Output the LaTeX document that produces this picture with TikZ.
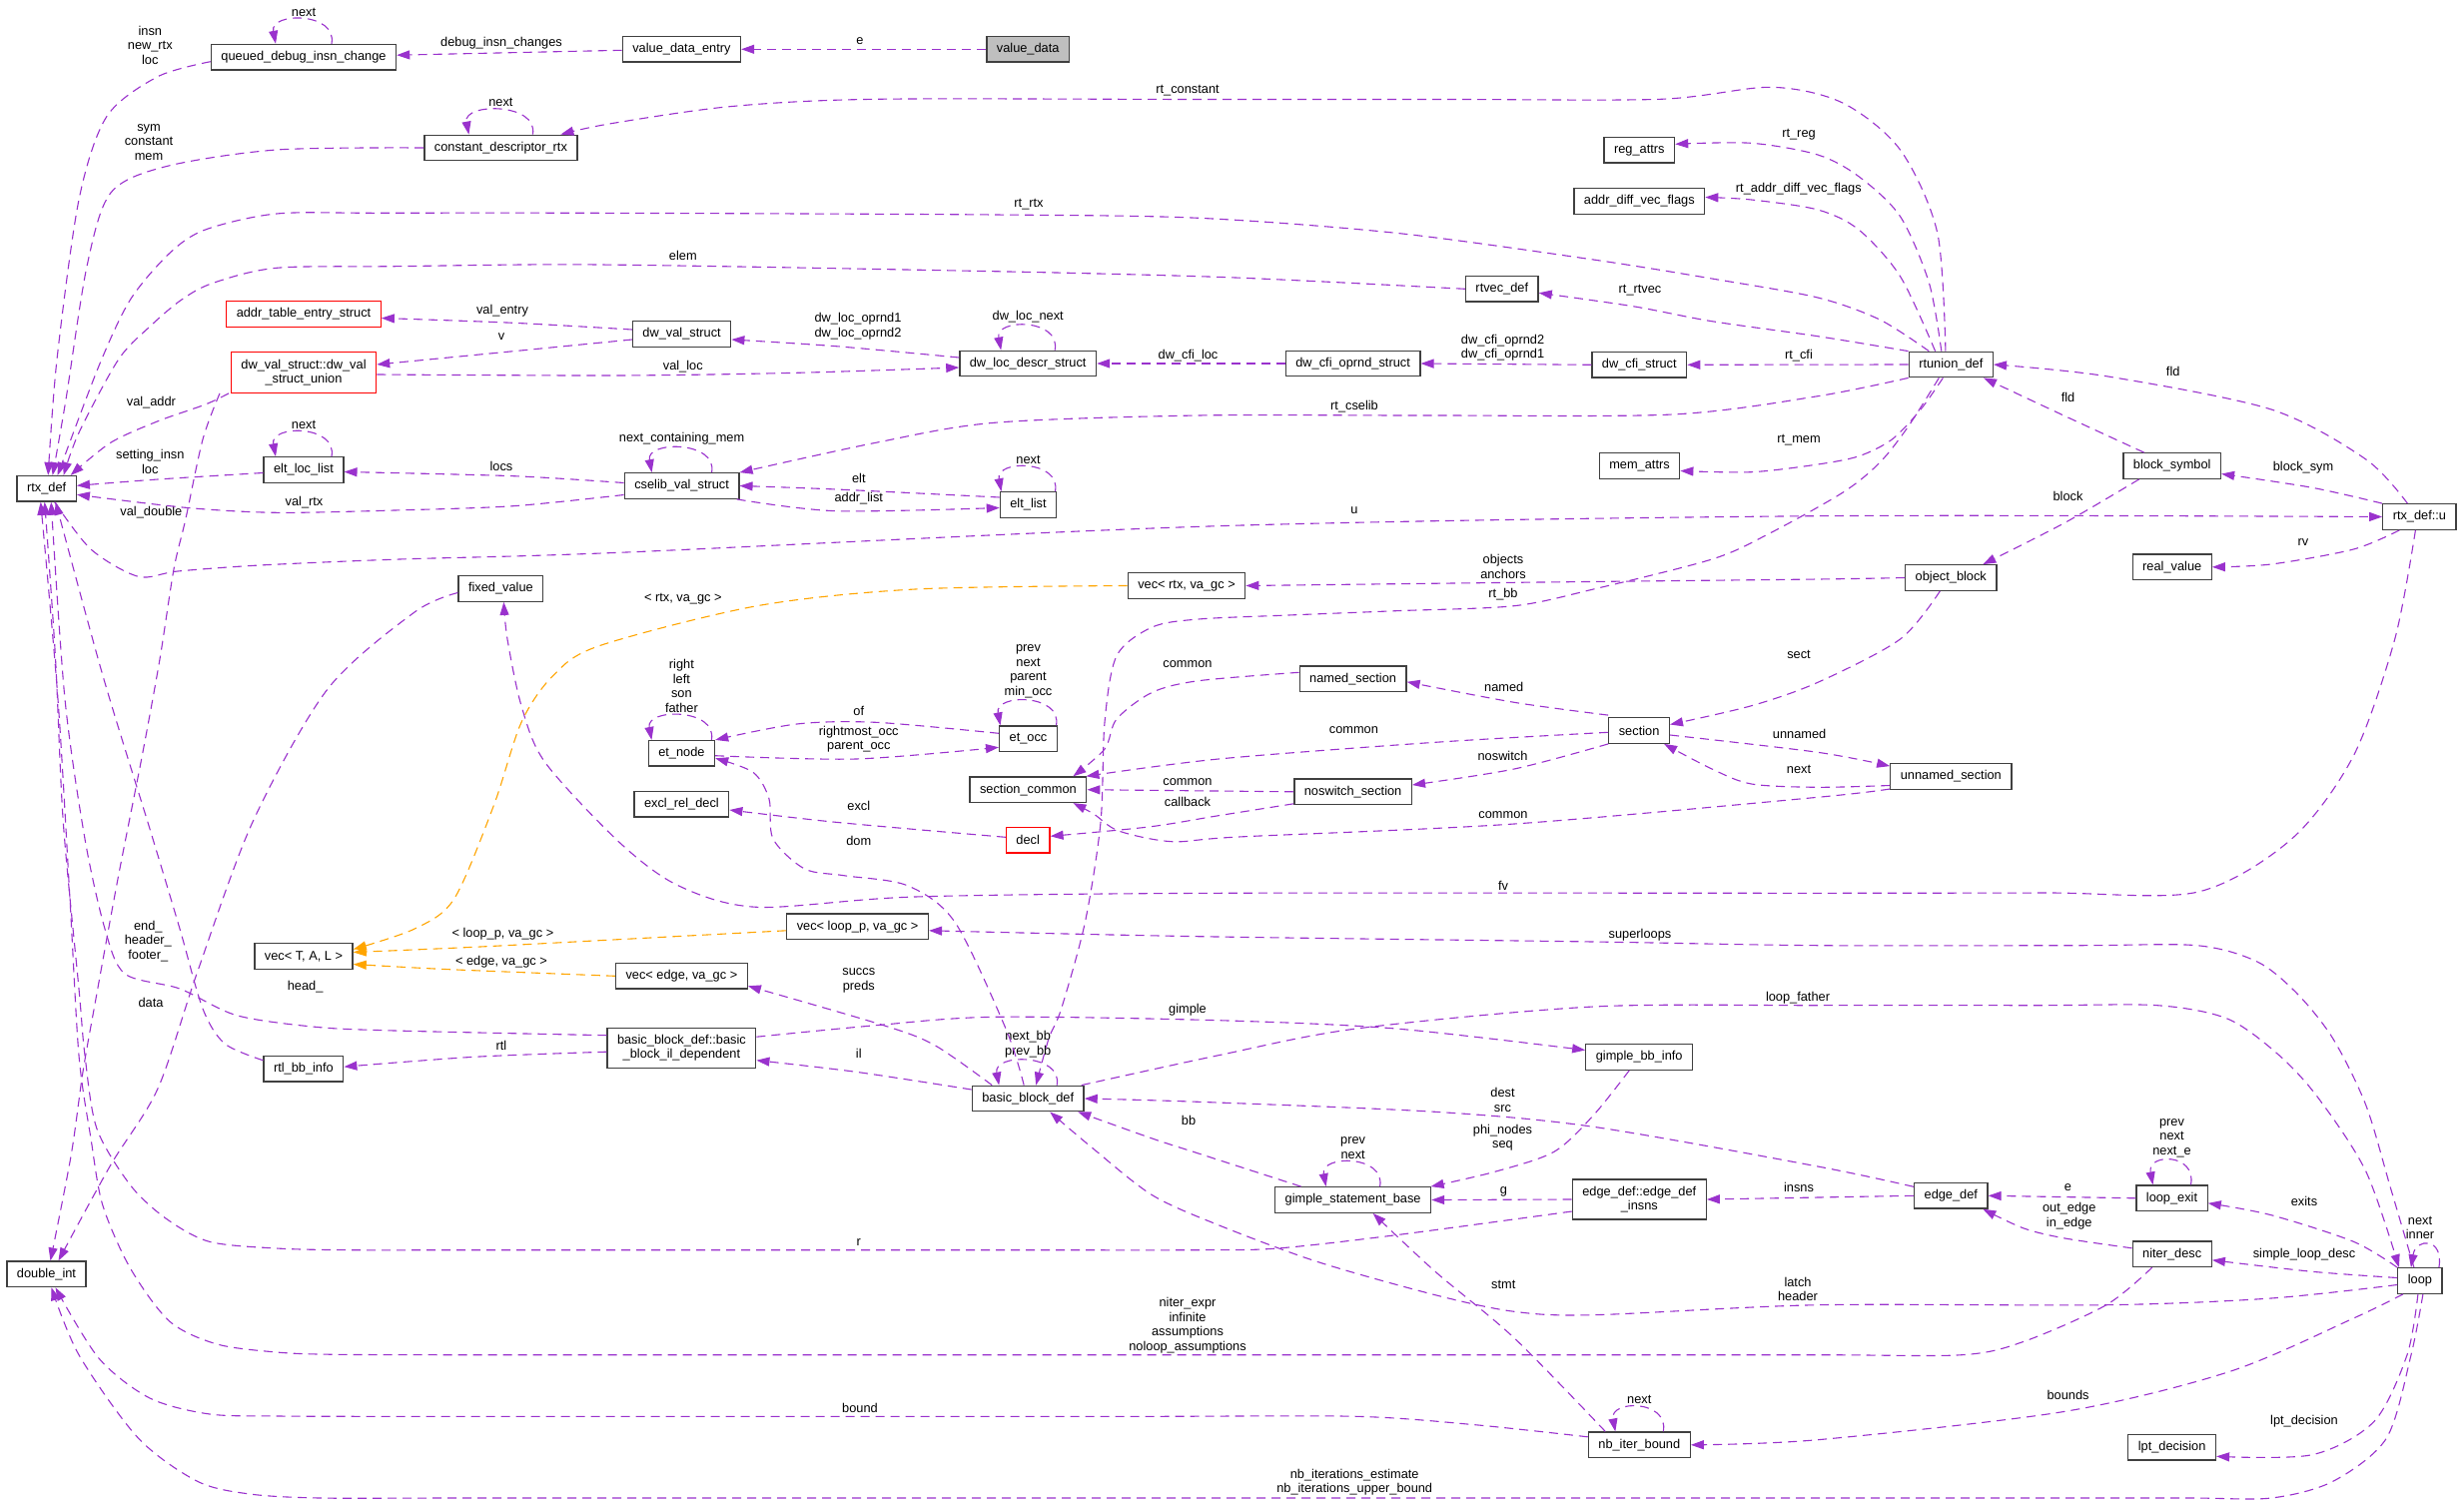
\documentclass[tikz,border=0pt]{standalone}
\usepackage{fontspec}
\setmainfont{Liberation Sans}
\usetikzlibrary{arrows.meta}
\definecolor{edgepurple}{HTML}{9A32CD}
\definecolor{tmplorange}{HTML}{FFA500}
\definecolor{boxgray}{HTML}{404040}
\definecolor{rootgray}{HTML}{BFBFBF}

\begin{document}
\begin{tikzpicture}[
  x=1pt, y=-1pt,
  cls/.style={rectangle, draw=boxgray, line width=1.3pt, fill=white, minimum height=25.5pt, inner xsep=10pt, inner ysep=1pt, align=center, font=\fontsize{12.8}{14.5}\selectfont},
  bad/.style={cls, draw=red},
  root/.style={cls, fill=rootgray},
  rel/.style={draw=edgepurple, line width=1.1pt, dash pattern=on 9pt off 6pt, -{Triangle[length=13pt, width=9pt]}},
  tmpl/.style={rel, draw=tmplorange},
  lbl/.style={inner sep=0pt, align=center, font=\fontsize{12.8}{14.5}\selectfont}
]
\path[use as bounding box, fill=white] (0,0) rectangle (2467,1509);

% classes
\node[root] (vd) at (1029.2,49.3) {value\_data};
\node[cls] (vde) at (682.4,49.3) {value\_data\_entry};
\node[cls] (qdic) at (304,57.2) {queued\_debug\_insn\_change};
\node[cls] (cdr) at (501.4,148) {constant\_descriptor\_rtx};
\node[cls] (rega) at (1641.3,150.3) {reg\_attrs};
\node[cls] (advf) at (1641.3,201.5) {addr\_diff\_vec\_flags};
\node[cls] (rtvec) at (1503.8,289.3) {rtvec\_def};
\node[bad] (ates) at (304,314.5) {addr\_table\_entry\_struct};
\node[cls] (dvs) at (682.6,334.5) {dw\_val\_struct};
\node[bad, minimum height=40.5pt] (dvsu) at (304,373) {dw\_val\_struct::dw\_val\\\_struct\_union};
\node[cls] (dlds) at (1029.2,364) {dw\_loc\_descr\_struct};
\node[cls] (dcos) at (1354.6,364) {dw\_cfi\_oprnd\_struct};
\node[cls] (dcs) at (1641.3,365.3) {dw\_cfi\_struct};
\node[cls] (rtu) at (1953.3,365) {rtunion\_def};
\node[cls] (mema) at (1641.5,466.5) {mem\_attrs};
\node[cls] (bsym) at (2174.7,466.5) {block\_symbol};
\node[cls] (ell) at (304,470.5) {elt\_loc\_list};
\node[cls] (cvs) at (682.6,486.5) {cselib\_val\_struct};
\node[cls] (rtx) at (46.7,489.3) {rtx\_def};
\node[cls] (elt) at (1029.5,505.5) {elt\_list};
\node[cls] (rtxu) at (2422.4,517.5) {rtx\_def::u};
\node[cls] (rval) at (2174.7,567.8) {real\_value};
\node[cls] (oblk) at (1953.3,578.5) {object\_block};
\node[cls] (vecrtx) at (1188,586.5) {vec< rtx, va\_gc >};
\node[cls] (fixv) at (501.4,589.5) {fixed\_value};
\node[cls] (nsec) at (1354.6,679.8) {named\_section};
\node[cls] (sec) at (1641.1,731.5) {section};
\node[cls] (eto) at (1029.5,739.8) {et\_occ};
\node[cls] (etn) at (682.4,754.3) {et\_node};
\node[cls] (unsec) at (1953.3,777.5) {unnamed\_section};
\node[cls] (secc) at (1029.4,790.7) {section\_common};
\node[cls] (nssec) at (1354.6,792.8) {noswitch\_section};
\node[cls] (erd) at (682.4,805.3) {excl\_rel\_decl};
\node[bad] (decl) at (1029.2,841.3) {decl};
\node[cls] (veclp) at (858.6,927.8) {vec< loop\_p, va\_gc >};
\node[cls] (vectal) at (304,957.5) {vec< T, A, L >};
\node[cls] (vecedge) at (682.4,977.3) {vec< edge, va\_gc >};
\node[cls, minimum height=40pt] (bbil) at (682.4,1049.2) {basic\_block\_def::basic\\\_block\_il\_dependent};
\node[cls] (gbb) at (1641.2,1058.5) {gimple\_bb\_info};
\node[cls] (rtlbb) at (303.9,1070.2) {rtl\_bb\_info};
\node[cls] (bb) at (1029.2,1100) {basic\_block\_def};
\node[cls] (edef) at (1953.3,1197.3) {edge\_def};
\node[cls] (lexit) at (2174.5,1199.8) {loop\_exit};
\node[cls, minimum height=40pt] (edi) at (1641.3,1201) {edge\_def::edge\_def\\\_insns};
\node[cls] (gsb) at (1354.6,1201.5) {gimple\_statement\_base};
\node[cls] (ndesc) at (2174.7,1255.8) {niter\_desc};
\node[cls] (dint) at (46.5,1275.8) {double\_int};
\node[cls] (lp) at (2422.9,1282.5) {loop};
\node[cls] (nbib) at (1641.3,1446.8) {nb\_iter\_bound};
\node[cls] (lpt) at (2174.6,1449.3) {lpt\_decision};

% self references
\foreach \n/\sh/\lab in {qdic/28/next, cdr/32/next, ell/28/next, cvs/30/next\_containing\_mem,
    elt/27/next, dlds/27/dw\_loc\_next, etn/30/{right\\left\\son\\father},
    eto/28/{prev\\next\\parent\\min\_occ}, bb/29/{next\_bb\\prev\_bb}, gsb/27/{prev\\next},
    nbib/24/next, lexit/19/{prev\\next\\next\_e}}
  \draw[rel] ([xshift=\sh]\n.north) .. controls ([xshift=\sh+6, yshift=32]\n.north) and ([xshift=-\sh-6, yshift=32]\n.north) .. ([xshift=-\sh]\n.north)
    node[lbl, above=3pt] at ([yshift=24]\n.north) {\lab};
\draw[rel] ([xshift=19]lp.north) .. controls ([xshift=24, yshift=30]lp.north) and ([xshift=-4, yshift=30]lp.north) .. ([xshift=-9]lp.north)
  node[lbl] at (2423,1229.5) {next\\inner};

% rtx_def and its neighbours
\draw[rel] (vd.west) -- (vde.east) node[lbl] at (861,40.7) {e};
\draw[rel] ([yshift=-1]vde.west) -- ([yshift=2]qdic.east) node[lbl] at (502,42.7) {debug\_insn\_changes};
\draw[rel] plot[smooth] coordinates {([yshift=-4.5]qdic.west) (158,76.7) (106.8,116.7) (79,200) (57,360) ([xshift=1.5]rtx.north)}
  node[lbl] at (150.3,45) {insn\\new\_rtx\\loc};
\draw[rel] plot[smooth] coordinates {(cdr.west) (276.8,150) (166,166.7) (110.7,193.3) (87,266.7) (66,400) ([xshift=6]rtx.north)}
  node[lbl] at (149,142.3) {sym\\constant\\mem};
\draw[rel] plot[smooth] coordinates {([xshift=-5.4]rtu.north) (1939.7,233) (1902.5,150) (1844.8,103) (1773.3,87.3) (1662.6,99.3) (1450,99.5) (1200,99.5) (876.8,99.3) (730.5,106.7) (610,124) ([xshift=60]cdr.north)}
  node[lbl] at (1189,91) {rt\_constant};
\draw[rel] plot[smooth] coordinates {([xshift=-22]rtu.north) (1881.9,320) (1820,298) (1720,280) (1595.4,260) (1397.7,233.3) (1200,218.3) (995.4,215) (600,213.3) (380,213.3) (276.8,214) (205.6,230) (170,253.3) (130.5,300) (98.9,366.7) ([xshift=11]rtx.north)}
  node[lbl] at (1030,204.7) {rt\_rtx};
\draw[rel] plot[smooth] coordinates {(rtvec.west) (1318.6,281.7) (1200,276.7) (995.4,271.7) (600,265) (395.4,266.7) (276.8,268.3) (213.5,283.3) (181.9,300) (150.3,326.7) (118.6,360) (79,433.3) ([xshift=17]rtx.north)}
  node[lbl] at (683.8,255.7) {elem};
\draw[rel] plot[smooth] coordinates {([xshift=-9.5]rtu.north) (1931.4,283.3) (1902.5,216.7) (1861,176.7) (1820,155) (1753.6,143.3) ([yshift=6]rega.east)}
  node[lbl] at (1801,134.3) {rt\_reg};
\draw[rel] plot[smooth] coordinates {([xshift=-15.7]rtu.north) (1902.5,276.7) (1861,230) (1820,210) (1753.6,200) ([yshift=4]advf.east)}
  node[lbl] at (1800.8,189) {rt\_addr\_diff\_vec\_flags};
\draw[rel] plot[smooth] coordinates {(rtu.north west) (1820,336.7) (1714,321.7) (1635,306.7) ([yshift=-4]rtvec.east)}
  node[lbl] at (1642,290.7) {rt\_rtvec};
\draw[rel] (rtu.west) -- (dcs.east) node[lbl] at (1801,356) {rt\_cfi};
\draw[rel] (dcs.west) -- (dcos.east) node[lbl] at (1504.5,348.2) {dw\_cfi\_oprnd2\\dw\_cfi\_oprnd1};
\draw[rel] (dcos.west) -- (dlds.east) node[lbl] at (1189.5,356) {dw\_cfi\_loc};
\draw[rel] plot[smooth] coordinates {(rtu.south west) (1820,396.7) (1674.5,415) (1430,416) (1200,416) (995.4,423.3) (876.8,443.3) ([xshift=58]cvs.north)}
  node[lbl] at (1356,407.3) {rt\_cselib};
\draw[rel] plot[smooth] coordinates {([xshift=-8]rtu.south) (1923,410) (1894.3,440) (1861.3,456.7) (1820,465) (1753.6,472.7) ([yshift=-5]mema.east)}
  node[lbl] at (1801,441) {rt\_mem};
\draw[rel] plot[smooth] coordinates {([xshift=-12]rtu.south) (1910.8,426.7) (1881.9,463.3) (1844.8,493.3) (1770,535) (1714,560) (1595.4,590) (1516,606.7) (1397.7,611.7) (1290,616) (1200,620) (1153.6,628) (1118,656.7) (1106,723.3) (1102,823.3) (1086.4,923.3) (1062.6,1010) (1050,1040) ([xshift=8]bb.north)}
  node[lbl] at (1505,595) {rt\_bb};

% dwarf values
\draw[rel] plot[smooth] coordinates {([yshift=4.5]dvs.west) (514,323.3) ([yshift=-4]ates.east)}
  node[lbl] at (503,310.7) {val\_entry};
\draw[rel] plot[smooth] coordinates {([yshift=-5.5]dvs.west) (514,351.7) ([yshift=8]dvsu.east)}
  node[lbl] at (502,336.7) {v};
\draw[rel] plot[smooth] coordinates {([yshift=-2]dvsu.east) (620,376) (797.7,373.3) ([yshift=-4]dlds.west)}
  node[lbl] at (683.8,366.7) {val\_loc};
\draw[rel] plot[smooth] coordinates {([yshift=6]dlds.west) (837,346.7) ([yshift=-5.5]dvs.east)}
  node[lbl] at (859,326.8) {dw\_loc\_oprnd1\\dw\_loc\_oprnd2};
\draw[rel] plot[smooth] coordinates {([xshift=-75]dvsu.south) (205.6,405) (158.2,421.7) (110.7,443.3) ([xshift=24]rtx.north)}
  node[lbl] at (151.4,402.7) {val\_addr};
\draw[rel] plot[smooth] coordinates {([xshift=-84]dvsu.south) (203,440) (185.8,520) (174,570) (160,660) (142.3,756.7) (118,880) (96,1000) (83,1073.3) (71.2,1156.7) ([xshift=4]dint.north)}
  node[lbl] at (151.4,512.7) {val\_double};

% cselib
\draw[rel] plot[smooth] coordinates {([yshift=-3]ell.west) (158,480) ([yshift=3]rtx.east)}
  node[lbl] at (150.3,462.5) {setting\_insn\\loc};
\draw[rel] plot[smooth] coordinates {([yshift=3]cvs.west) (514,476.7) ([yshift=-2]ell.east)}
  node[lbl] at (502,466.7) {locs};
\draw[rel] plot[smooth] coordinates {([yshift=-9]cvs.west) (514,506.7) (395,511) (276.8,513.3) (185.8,508.3) ([yshift=-6]rtx.east)}
  node[lbl] at (304.5,503.3) {val\_rtx};
\draw[rel] plot[smooth] coordinates {([yshift=7.5]elt.west) (837,490) (cvs.east)}
  node[lbl] at (859.8,478.7) {elt};
\draw[rel] plot[smooth] coordinates {([xshift=55]cvs.south) (837,511.7) ([yshift=-3]elt.west)}
  node[lbl] at (859.8,499.3) {addr\_list};

% rtx_def::u
\draw[rel] plot[smooth] coordinates {([xshift=8]rtx.south) (91,550) (138.4,577.3) (178,572) (260,566) (400,560) (620,553.3) (1220,526.7) (1820,516.7) (rtxu.west)}
  node[lbl] at (1356,510.7) {u};
\draw[rel] plot[smooth] coordinates {([xshift=-12]rtxu.north) (2368.8,460) (2274,410) (2108.8,376.7) (rtu.east)}
  node[lbl] at (2175.7,372.3) {fld};
\draw[rel] plot[smooth] coordinates {([xshift=-28]bsym.north) (2067.6,416.7) ([xshift=-10]rtu.south east)}
  node[lbl] at (2070.5,398.3) {fld};
\draw[rel] plot[smooth] coordinates {(rtxu.north west) (2315,488.3) ([yshift=-8]bsym.east)}
  node[lbl] at (2306,468.3) {block\_sym};
\draw[rel] plot[smooth] coordinates {([xshift=-33]bsym.south) (2067.6,523.3) ([xshift=32]oblk.north)}
  node[lbl] at (2070.5,496.7) {block};
\draw[rel] plot[smooth] coordinates {([xshift=-20]rtxu.south) (2356.4,550) (2274,565) (rval.east)}
  node[lbl] at (2306,542.7) {rv};
\draw[rel] plot[smooth] coordinates {(oblk.west) (1820,580) (1516,583.3) (vecrtx.east)}
  node[lbl] at (1505,567.3) {objects\\anchors};
\draw[rel] plot[smooth] coordinates {([xshift=-11]oblk.south) (1902.5,640) (1820,683.3) (1753.6,706.7) ([yshift=6]sec.east)}
  node[lbl] at (1801,655) {sect};
\draw[rel] plot[smooth] coordinates {([xshift=-4]rtxu.south) (2397.7,640) (2356.4,756.7) (2294.5,840) (2199.6,893.3) (2050,894) (1820,894.3) (1220,894.3) (916,898) (758,908.3) (679,886.7) (620,843.3) (545.7,763.3) (522,706.7) (508,640) ([xshift=3]fixv.south)}
  node[lbl] at (1505,886.7) {fv};

% sections
\draw[rel] plot[smooth] coordinates {([yshift=-1.8]sec.west) (1437,743.3) (1220,760) ([xshift=-1]secc.north east)}
  node[lbl] at (1355.4,731.3) {common};
\draw[rel] plot[smooth] coordinates {([yshift=6.5]nsec.west) (1200,681.7) (1153.6,693.3) (1118,720) (1106,750) ([xshift=-14]secc.north east)}
  node[lbl] at (1189,665) {common};
\draw[rel] plot[smooth] coordinates {([yshift=2]sec.north west) (1516,703.3) ([yshift=-3]nsec.east)}
  node[lbl] at (1505.7,687.7) {named};
\draw[rel] plot[smooth] coordinates {(sec.south west) (1516,770) ([yshift=6.8]nssec.east)}
  node[lbl] at (1504.5,756.7) {noswitch};
\draw[rel] (nssec.west) -- (secc.east) node[lbl] at (1189,782.7) {common};
\draw[rel] plot[smooth] coordinates {([yshift=-12]nssec.west) (1220,816.7) (1150,828) ([yshift=4]decl.east)}
  node[lbl] at (1189,803.3) {callback};
\draw[rel] plot[smooth] coordinates {([yshift=-12.5]unsec.west) (1820,798.3) (1516,825) (1240,838) (1173.4,842.7) (1120,832) (1095,815) ([xshift=45]secc.south)}
  node[lbl] at (1505,816) {common};
\draw[rel] plot[smooth] coordinates {([yshift=-4.5]sec.east) (1820,753.3) ([yshift=-3]unsec.north west)}
  node[lbl] at (1801.6,735) {unnamed};
\draw[rel] plot[smooth] coordinates {([yshift=-9]unsec.west) (1820,788.3) (1753.6,785) (1714,770) ([xshift=25]sec.south)}
  node[lbl] at (1801,770.7) {next};
\draw[rel] plot[smooth] coordinates {([yshift=3]decl.west) (837,823.3) ([yshift=-5.7]erd.east)}
  node[lbl] at (859.8,806.7) {excl};

% et tree
\draw[rel] plot[smooth] coordinates {([yshift=5.5]eto.west) (876.8,723.3) (797.7,725) (etn.north east)}
  node[lbl] at (859.8,712.3) {of};
\draw[rel] plot[smooth] coordinates {([yshift=-2.4]etn.east) (857,760) ([yshift=-8.5]eto.west)}
  node[lbl] at (859.8,740.2) {rightmost\_occ\\parent\_occ};
\draw[rel] plot[smooth] coordinates {([xshift=-4]bb.north) (1007,1030) (956,923.3) (908.4,886.7) (845,876.7) (805.6,870) (774,840) (770,800) (754,773.3) ([yshift=-5]etn.east)}
  node[lbl] at (859.8,842.3) {dom};

% templates
\draw[tmpl] plot[smooth] coordinates {(vecrtx.west) (916.3,590) (758,606.7) (600,646.7) (553.6,676.7) (522,723.3) (494.3,806.7) (454.7,900) (415.2,930) ([yshift=7]vectal.east)}
  node[lbl] at (683.8,600) {< rtx, va\_gc >};
\draw[tmpl] plot[smooth] coordinates {([yshift=-4]veclp.west) (600,941.7) (474.5,948.3) ([yshift=4]vectal.east)}
  node[lbl] at (503.4,935) {< loop\_p, va\_gc >};
\draw[tmpl] plot[smooth] coordinates {(vecedge.west) (514,973.3) (435,970) ([yshift=-8]vectal.east)}
  node[lbl] at (502,963.3) {< edge, va\_gc >};

% basic blocks
\draw[rel] plot[smooth] coordinates {([xshift=-36]bb.north) (936,1046.7) (884.7,1026.7) ([yshift=-10]vecedge.east)}
  node[lbl] at (859.8,982) {succs\\preds};
\draw[rel] plot[smooth] coordinates {([yshift=9]bb.west) (857,1073.3) ([yshift=-12.5]bbil.east)}
  node[lbl] at (859.8,1055) {il};
\draw[rel] plot[smooth] coordinates {([yshift=-4]bbil.west) (474.5,1058.3) ([yshift=2]rtlbb.east)}
  node[lbl] at (502,1046.7) {rtl};
\draw[rel] plot[smooth] coordinates {([yshift=11]bbil.east) (876.8,1026.7) (995.4,1018.3) (1220,1021.7) (1397.7,1030) ([yshift=7]gbb.west)}
  node[lbl] at (1189,1010.7) {gimple};
\draw[rel] plot[smooth] coordinates {([yshift=12.5]bbil.west) (395,1032) (316,1028.3) (237,1016.7) (180,990) (125,975) (105,930) (85,840) (65,700) ([xshift=4.5]rtx.south)}
  node[lbl] at (305.6,988) {head\_};
\draw[rel] plot[smooth] coordinates {([yshift=8.5]rtlbb.west) (225,1045) (203,1010) (180,930) (150,830) (103,676.7) ([xshift=9]rtx.south)}
  node[lbl] at (148.3,942.3) {end\_\\header\_\\footer\_};
\draw[rel] plot[smooth] coordinates {([yshift=-4]fixv.west) (415,613) (328,690) (253,823) (197.7,973) (158,1090) (110.7,1166.7) ([xshift=12]dint.north)}
  node[lbl] at (151,1004) {data};
\draw[rel] plot[smooth] coordinates {([xshift=-3]bb.north east) (1220,1056.7) (1358,1030) (1595.4,1008) (1820,1006.7) (2040,1006.7) (2160,1006.7) (2230,1020) (2280,1055) (2320,1098) (2368.8,1173) ([xshift=-21]lp.north)}
  node[lbl] at (1800,999.3) {loop\_father};
\draw[rel] plot[smooth] coordinates {([xshift=-6]lp.north) (2393.6,1190) (2368.8,1106.7) (2335.8,1040) (2300,995) (2260,963) (2199.6,946.7) (2080,946.7) (1820,946.7) (1595,943) (1200,937.7) ([yshift=-4]veclp.east)}
  node[lbl] at (1642,935.7) {superloops};

% edges, gimple, loops
\draw[rel] plot[smooth] coordinates {([yshift=9]edef.west) (1820,1168) (1595.4,1128.3) (1437,1113.3) (1200,1103.3) (bb.east)}
  node[lbl] at (1504.5,1101.5) {dest\\src};
\draw[rel] plot[smooth] coordinates {([xshift=-52]gsb.north) (1200,1155) (1153.6,1140) ([xshift=50]bb.south)}
  node[lbl] at (1190,1122.3) {bb};
\draw[rel] plot[smooth] coordinates {([xshift=-10]gbb.south) (1595.4,1116.7) (1555.9,1153.3) (1496.6,1173.3) ([xshift=78]gsb.north)}
  node[lbl] at (1504.5,1139.2) {phi\_nodes\\seq};
\draw[rel] (edi.west) -- (gsb.east) node[lbl] at (1505.3,1193.3) {g};
\draw[rel] (edef.west) -- (edi.east) node[lbl] at (1801,1188.7) {insns};
\draw[rel] (lexit.west) -- (edef.east) node[lbl] at (2070.5,1189) {e};
\draw[rel] plot[smooth] coordinates {([yshift=6]ndesc.west) (2067.6,1240) (2026.3,1230) ([xshift=32]edef.south)}
  node[lbl] at (2071.7,1217.8) {out\_edge\\in\_edge};
\draw[rel] plot[smooth] coordinates {(lp.north west) (2356.4,1243.3) (2274,1216.7) ([yshift=-5]lexit.east)}
  node[lbl] at (2307,1203.3) {exits};
\draw[rel] plot[smooth] coordinates {([yshift=3]lp.west) (2315,1273.3) ([yshift=-6]ndesc.east)}
  node[lbl] at (2307,1255.7) {simple\_loop\_desc};
\draw[rel] plot[smooth] coordinates {([yshift=-12]edi.west) (1397.7,1236.7) (1279,1250) (1200,1251.7) (1000,1251.7) (700,1251.7) (480,1251.7) (350,1251.7) (276.8,1250) (209.6,1243.3) (166,1220) (130.5,1186.7) (96.9,1130) (85,1056.7) (79,990) (63.3,823) (55.4,656.7) ([xshift=-2]rtx.south)}
  node[lbl] at (859.8,1244) {r};
\draw[rel] plot[smooth] coordinates {([xshift=-20]ndesc.south) (2108.8,1306.7) (2026.3,1343.3) (1964.4,1356.7) (1820,1356.7) (1500,1356.7) (1100,1356.7) (700,1356.7) (450,1356.7) (330,1356.2) (276.8,1354) (217.5,1346) (170,1323.3) (130.5,1270) (102.8,1206.7) (91,1140) (79,1056.7) (70,900) (58,700) ([xshift=-6]rtx.south)}
  node[lbl] at (1189,1327) {niter\_expr\\infinite\\assumptions\\noloop\_assumptions};
\draw[rel] plot[smooth] coordinates {([yshift=-4]lp.west) (2273.9,1300) (2108.8,1306.7) (1820,1306.7) (1595.4,1316.7) (1516,1313.3) (1437,1296.7) (1318.6,1263.3) (1220,1226.7) (1153.6,1196.7) (1094.3,1150) ([xshift=22]bb.south)}
  node[lbl] at (1800,1290.8) {latch\\header};
\draw[rel] plot[smooth] coordinates {([xshift=-34]nbib.north) (1516.3,1340) (1437,1273.3) ([xshift=20]gsb.south)}
  node[lbl] at (1505.3,1286) {stmt};
\draw[rel] plot[smooth] coordinates {([xshift=-17]lp.south) (2356.4,1320) (2232.6,1373.3) (2067.6,1413.3) (1820,1441.7) (nbib.east)}
  node[lbl] at (2070.5,1396.7) {bounds};
\draw[rel] plot[smooth] coordinates {([xshift=-2]lp.south) (2410,1356.7) (2377,1423.3) (2315,1456.7) ([yshift=-9]lpt.east)}
  node[lbl] at (2307,1423.3) {lpt\_decision};
\draw[rel] plot[smooth] coordinates {([xshift=3]lp.south) (2414,1356.7) (2389.4,1440) (2335.8,1483.3) (2274,1500) (2191.4,1500) (2000,1500) (1600,1500) (1100,1500) (700,1500) (450,1500) (320,1500) (250,1496) (197.7,1483.3) (138.4,1440) (79,1356.7) ([xshift=5]dint.south)}
  node[lbl] at (1356.2,1484.2) {nb\_iterations\_estimate\\nb\_iterations\_upper\_bound};
\draw[rel] plot[smooth] coordinates {([yshift=8]nbib.west) (1476.8,1426.7) (1358,1418.3) (1150,1418.3) (850,1418.3) (550,1418.3) (380,1418.3) (280,1418) (210,1416) (150,1400) (98.9,1360) ([xshift=9]dint.south)}
  node[lbl] at (861,1410) {bound};
\end{tikzpicture}
\end{document}
